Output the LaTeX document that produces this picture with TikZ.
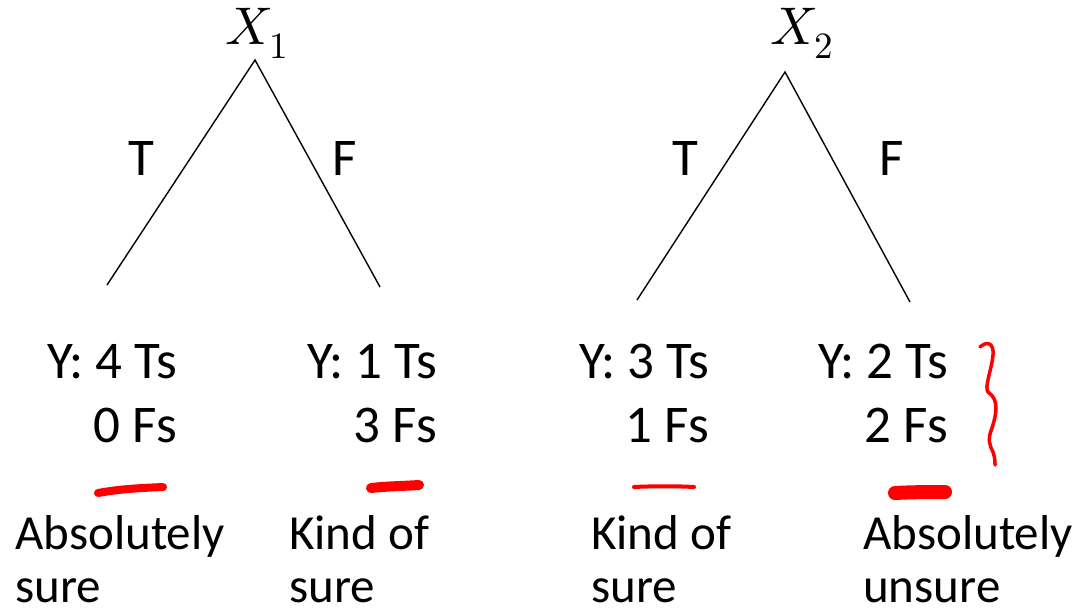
\documentclass[tikz,border=0pt]{standalone}
\usepackage{fontspec}
\setmainfont{Carlito}
\usepackage{unicode-math}
\setmathfont{Latin Modern Math}
\begin{document}
\begin{tikzpicture}[x=1pt,y=-1pt,
  lbl/.style={inner sep=0pt,font=\fontsize{49}{58}\selectfont},
  big/.style={inner sep=0pt,font=\fontsize{53}{62}\selectfont},
  rlbl/.style={big,anchor=base east},
  llbl/.style={lbl,anchor=base west,text depth=0pt},
  var/.style={inner sep=0pt,anchor=base,font=\fontsize{53}{60}\selectfont},
  treeline/.style={line width=1.4pt,black},
  redmark/.style={red,line cap=round,line join=round}]
\useasboundingbox (0,0) rectangle (1075,610);
% roots
\node[var] (r1) at (257,45) {$X_1$};
\node[var] (r2) at (802,45) {$X_2$};
\coordinate (a1) at (255,60);
\coordinate (a2) at (785,72);
\coordinate (e11) at (107,285);
\coordinate (e12) at (380,287);
\coordinate (e21) at (637,300);
\coordinate (e22) at (910,302);
\draw[treeline] (e11) -- (a1) -- (e12);
\draw[treeline] (e21) -- (a2) -- (e22);
% branch labels
\node[big] (t1) at (141,158) {T};
\node[big] (f1) at (345,158) {F};
\node[big] (t2) at (685,158) {T};
\node[big] (f2) at (892,158) {F};
% leaf counts
\node[rlbl] (y11) at (177,378) {Y: 4 Ts};
\node[rlbl] (z11) at (177,442) {0 Fs};
\node[rlbl] (y12) at (437,378) {Y: 1 Ts};
\node[rlbl] (z12) at (437,442) {3 Fs};
\node[rlbl] (y21) at (709,378) {Y: 3 Ts};
\node[rlbl] (z21) at (709,442) {1 Fs};
\node[rlbl] (y22) at (948,378) {Y: 2 Ts};
\node[rlbl] (z22) at (948,442) {2 Fs};
% verdicts
\node[llbl] (v11) at (15,549) {Absolutely};
\node[llbl] (w11) at (15,602) {sure};
\node[llbl] (v12) at (289,549) {Kind of};
\node[llbl] (w12) at (289,602) {sure};
\node[llbl] (v21) at (591,549) {Kind of};
\node[llbl] (w21) at (591,602) {sure};
\node[llbl] (v22) at (863,549) {Absolutely};
\node[llbl] (w22) at (863,602) {unsure};
% red marks
\draw[redmark,line width=8pt] (98,493) .. controls (120,489) and (140,488) .. (163,487);
\draw[redmark,line width=10pt] (371,488) .. controls (390,486) and (405,486) .. (419,485);
\draw[redmark,line width=4pt] (634,487) .. controls (655,486) and (675,486) .. (694,487);
\draw[redmark,line width=14pt] (895,493) .. controls (915,492) and (930,492) .. (945,492);
\draw[redmark,line width=3.5pt] (980,347) .. controls (988,340) and (994,344) .. (993,355)
  .. controls (992,368) and (984,388) .. (988,392)
  .. controls (1000,400) and (996,415) .. (992,428)
  .. controls (987,440) and (990,446) .. (993,452)
  .. controls (995,458) and (995,462) .. (995,465);
\end{tikzpicture}
\end{document}
